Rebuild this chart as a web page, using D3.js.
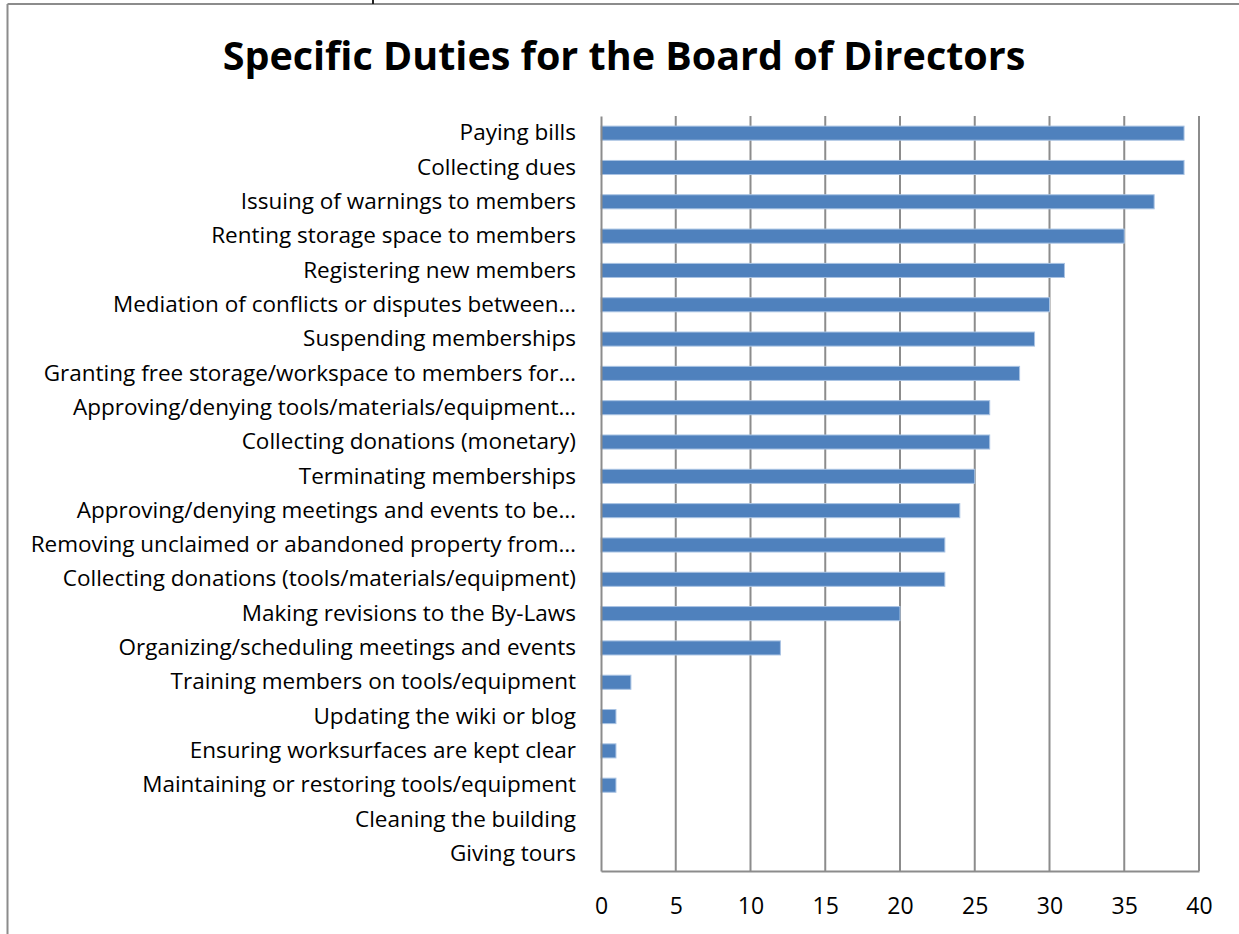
<!DOCTYPE html>
<html>
<head>
<meta charset="utf-8">
<script src="https://cdn.jsdelivr.net/npm/d3@7"></script>
<style>
  body { margin: 0; background: #fff; }
  svg { display: block; }
  .grid line { stroke: #8c8c8c; stroke-width: 2; }
  .axis text { font-family: "Open Sans", sans-serif; fill: #000; }
</style>
</head>
<body>
<svg width="1239" height="934"></svg>
<script>
var duties = [
  "Paying bills",
  "Collecting dues",
  "Issuing of warnings to members",
  "Renting storage space to members",
  "Registering new members",
  "Mediation of conflicts or disputes between…",
  "Suspending memberships",
  "Granting free storage/workspace to members for…",
  "Approving/denying tools/materials/equipment…",
  "Collecting donations (monetary)",
  "Terminating memberships",
  "Approving/denying meetings and events to be…",
  "Removing unclaimed or abandoned property from…",
  "Collecting donations (tools/materials/equipment)",
  "Making revisions to the By-Laws",
  "Organizing/scheduling meetings and events",
  "Training members on tools/equipment",
  "Updating the wiki or blog",
  "Ensuring worksurfaces are kept clear",
  "Maintaining or restoring tools/equipment",
  "Cleaning the building",
  "Giving tours"
];
var counts = [39, 39, 37, 35, 31, 30, 29, 28, 26, 26, 25, 24, 23, 23, 20, 12, 2, 1, 1, 1, 0, 0];
var xTicks = [0, 5, 10, 15, 20, 25, 30, 35, 40];
var title = "Specific Duties for the Board of Directors";

var svg = d3.select("svg"),
  margin = {top: 116, right: 40, bottom: 63, left: 601},
  width = 1199 - margin.left,
  height = 871 - margin.top;

// outer frame (only top and left edges visible)
svg.append("line").attr("x1", 7.5).attr("y1", 4).attr("x2", 1239).attr("y2", 4)
  .attr("stroke", "#8c8c8c").attr("stroke-width", 2);
svg.append("line").attr("x1", 7.5).attr("y1", 4).attr("x2", 7.5).attr("y2", 934)
  .attr("stroke", "#8c8c8c").attr("stroke-width", 2);
svg.append("line").attr("x1", 373).attr("y1", 0).attr("x2", 373).attr("y2", 4)
  .attr("stroke", "#222").attr("stroke-width", 2);

svg.append("text")
  .attr("x", 624).attr("y", 70)
  .attr("text-anchor", "middle")
  .style("font-family", "'Open Sans', sans-serif")
  .style("font-weight", "bold")
  .style("font-size", "39.5px")
  .text(title);

var x = d3.scaleLinear().domain([0, 40]).range([0, width]);
var y = d3.scaleBand().domain(duties).range([0, height]).paddingInner(0.59).paddingOuter(0.295);

var g = svg.append("g")
  .attr("transform", "translate(" + margin.left + "," + margin.top + ")");

// vertical gridlines
g.append("g")
  .attr("class", "grid")
  .selectAll("line")
  .data(xTicks.slice(1))
  .enter().append("line")
  .attr("x1", function(d) { return x(d); })
  .attr("x2", function(d) { return x(d); })
  .attr("y1", 0)
  .attr("y2", height);

g.selectAll(".bar")
  .data(counts)
  .enter().append("rect")
  .attr("class", "bar")
  .attr("x", x(0))
  .attr("y", function(d, i) { return y(duties[i]); })
  .attr("width", function(d) { return x(d); })
  .attr("height", y.bandwidth())
  .attr("fill", "#4f81bd")
  .attr("stroke", function(d) { return d > 0 ? "#a9c3e3" : "none"; })
  .attr("stroke-width", 1);

// axes
var xAxis = g.append("g")
  .attr("class", "axis")
  .attr("transform", "translate(0," + height + ")")
  .call(d3.axisBottom(x).tickValues(xTicks).tickSize(0).tickPadding(27));
xAxis.select(".domain").attr("stroke", "#8c8c8c").attr("stroke-width", 2);
xAxis.selectAll("text").style("font-size", "23px");

var yAxis = g.append("g")
  .attr("class", "axis")
  .call(d3.axisLeft(y).tickSize(0).tickPadding(25));
yAxis.select(".domain").attr("stroke", "#8c8c8c").attr("stroke-width", 2);
yAxis.selectAll("text").style("font-size", "22.5px");
</script>
</body>
</html>
